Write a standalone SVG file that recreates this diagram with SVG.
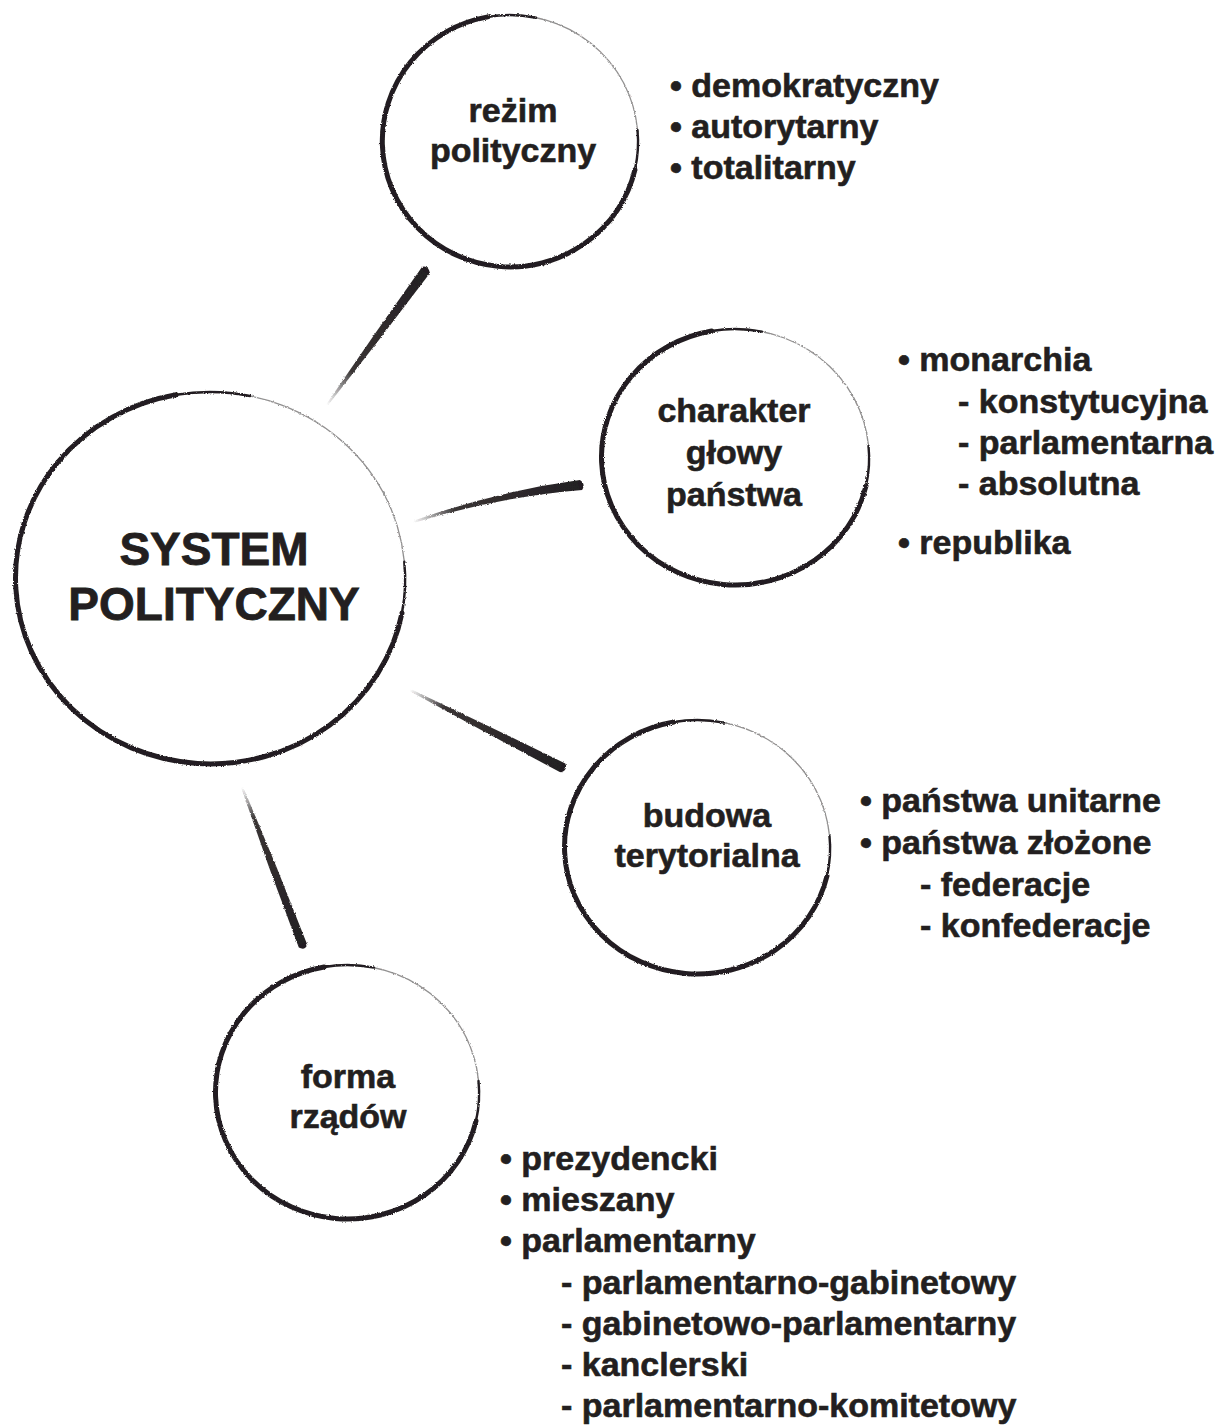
<svg xmlns="http://www.w3.org/2000/svg" width="1220" height="1426" viewBox="0 0 1220 1426">
<defs>
<style>
text{font-family:"Liberation Sans",Arial,Helvetica,sans-serif;font-weight:bold;fill:#231f20;stroke:#231f20;stroke-width:0.6;}
.lbl{font-size:34px;text-anchor:middle;}
.main{font-size:46px;text-anchor:middle;stroke-width:0.8;}
.li{font-size:34px;}
.faint{fill:none;stroke:#231f20;stroke-width:1.3;opacity:0.5;}
.thick{fill:none;stroke:#231f20;stroke-width:5;stroke-linecap:round;}
.thin{fill:none;stroke:#231f20;stroke-width:2.4;stroke-linecap:round;}
</style>
<filter id="rough" x="-5%" y="-5%" width="110%" height="110%">
<feTurbulence type="fractalNoise" baseFrequency="0.9" numOctaves="2" seed="3" result="n"/>
<feDisplacementMap in="SourceGraphic" in2="n" scale="2.5" xChannelSelector="R" yChannelSelector="G"/>
</filter>
<linearGradient id="g1" gradientUnits="userSpaceOnUse" x1="327" y1="405" x2="426" y2="270">
<stop offset="0" stop-color="#231f20" stop-opacity="0"/><stop offset="0.25" stop-color="#231f20" stop-opacity="0.9"/><stop offset="1" stop-color="#231f20"/>
</linearGradient>
<linearGradient id="g2" gradientUnits="userSpaceOnUse" x1="413" y1="522" x2="581" y2="485">
<stop offset="0" stop-color="#231f20" stop-opacity="0"/><stop offset="0.25" stop-color="#231f20" stop-opacity="0.9"/><stop offset="1" stop-color="#231f20"/>
</linearGradient>
<linearGradient id="g3" gradientUnits="userSpaceOnUse" x1="410" y1="690" x2="563" y2="768">
<stop offset="0" stop-color="#231f20" stop-opacity="0"/><stop offset="0.22" stop-color="#231f20" stop-opacity="0.9"/><stop offset="1" stop-color="#231f20"/>
</linearGradient>
<linearGradient id="g4" gradientUnits="userSpaceOnUse" x1="242" y1="787" x2="303" y2="946">
<stop offset="0" stop-color="#231f20" stop-opacity="0"/><stop offset="0.2" stop-color="#231f20" stop-opacity="0.9"/><stop offset="1" stop-color="#231f20"/>
</linearGradient>
</defs>
<rect width="1220" height="1426" fill="#ffffff"/>

<g id="connectors" filter="url(#rough)">
<path d="M326.2,404.4 L373.7,335.4 L422,267 Q428,265 430,273 L379.3,339.6 L327.8,405.6 Z" fill="url(#g1)"/>
<path d="M412.8,521 Q496.4,491.1 579.9,480.1 Q586,484 582.1,489.9 Q497.6,496.9 413.2,523 Z" fill="url(#g2)"/>
<path d="M410.5,689.1 L488.1,725.9 L565.3,763.5 Q568,770 560.7,772.5 L484.9,732.1 L409.5,690.9 Z" fill="url(#g3)"/>
<path d="M242.9,786.6 L275.8,865.2 L307.2,944.4 Q305,951 298.8,947.6 L269.2,867.8 L241.1,787.4 Z" fill="url(#g4)"/>
</g>

<g id="node-system" filter="url(#rough)">
<ellipse class="faint" cx="210" cy="578" rx="195" ry="186"/>
<path class="thin" d="M404.3,561.8 A195,186 0 0 1 402.0,613.0"/>
<path class="thick" d="M402.0,613.0 A195,186 0 1 1 176.1,394.8"/>
<path class="thin" d="M176.1,394.8 A195,186 0 0 1 250.0,396.0"/>
</g>
<text class="main" x="214" y="565">SYSTEM</text>
<text class="main" x="214" y="620">POLITYCZNY</text>

<g id="node-rezim" filter="url(#rough)">
<ellipse class="faint" cx="510" cy="141" rx="128" ry="126"/>
<path class="thin" d="M637.5,130.0 A128,126 0 0 1 634.9,169.8"/>
<path class="thick" d="M634.9,169.8 A128,126 0 1 1 487.8,16.9"/>
<path class="thin" d="M487.8,16.9 A128,126 0 0 1 536.0,17.7"/>
</g>
<text class="lbl" x="513" y="122">reżim</text>
<text class="lbl" x="513" y="162">polityczny</text>

<g id="node-charakter" filter="url(#rough)">
<ellipse class="faint" cx="735" cy="457" rx="134" ry="128"/>
<path class="thin" d="M868.5,446.0 A134,128 0 0 1 866.0,486.0"/>
<path class="thick" d="M866.0,486.0 A134,128 0 1 1 711.7,331.0"/>
<path class="thin" d="M711.7,331.0 A134,128 0 0 1 762.0,331.6"/>
</g>
<text class="lbl" x="734" y="422">charakter</text>
<text class="lbl" x="734" y="464">głowy</text>
<text class="lbl" x="734" y="506">państwa</text>

<g id="node-budowa" filter="url(#rough)">
<ellipse class="faint" cx="697" cy="847" rx="133" ry="127"/>
<path class="thin" d="M829.5,836.0 A133,127 0 0 1 827.0,876.0"/>
<path class="thick" d="M827.0,876.0 A133,127 0 1 1 673.9,722.0"/>
<path class="thin" d="M673.9,722.0 A133,127 0 0 1 724.0,722.6"/>
</g>
<text class="lbl" x="707" y="827">budowa</text>
<text class="lbl" x="707" y="867">terytorialna</text>

<g id="node-forma" filter="url(#rough)">
<ellipse class="faint" cx="347" cy="1092" rx="132" ry="127"/>
<path class="thin" d="M478.5,1081.0 A132,127 0 0 1 476.0,1121.0"/>
<path class="thick" d="M476.0,1121.0 A132,127 0 1 1 324.1,967.0"/>
<path class="thin" d="M324.1,967.0 A132,127 0 0 1 374.0,967.6"/>
</g>
<text class="lbl" x="348" y="1088">forma</text>
<text class="lbl" x="348" y="1128">rządów</text>

<g id="list-rezim">
<text class="li" x="670" y="97">• demokratyczny</text>
<text class="li" x="670" y="138">• autorytarny</text>
<text class="li" x="670" y="179">• totalitarny</text>
</g>

<g id="list-charakter">
<text class="li" x="898" y="371">• monarchia</text>
<text class="li" x="958" y="413">- konstytucyjna</text>
<text class="li" x="958" y="454">- parlamentarna</text>
<text class="li" x="958" y="495">- absolutna</text>
<text class="li" x="898" y="554">• republika</text>
</g>

<g id="list-budowa">
<text class="li" x="860" y="812">• państwa unitarne</text>
<text class="li" x="860" y="854">• państwa złożone</text>
<text class="li" x="920" y="896">- federacje</text>
<text class="li" x="920" y="937">- konfederacje</text>
</g>

<g id="list-forma">
<text class="li" x="500" y="1170">• prezydencki</text>
<text class="li" x="500" y="1211">• mieszany</text>
<text class="li" x="500" y="1252">• parlamentarny</text>
<text class="li" x="561" y="1294">- parlamentarno-gabinetowy</text>
<text class="li" x="561" y="1335">- gabinetowo-parlamentarny</text>
<text class="li" x="561" y="1376">- kanclerski</text>
<text class="li" x="561" y="1417">- parlamentarno-komitetowy</text>
</g>
</svg>
